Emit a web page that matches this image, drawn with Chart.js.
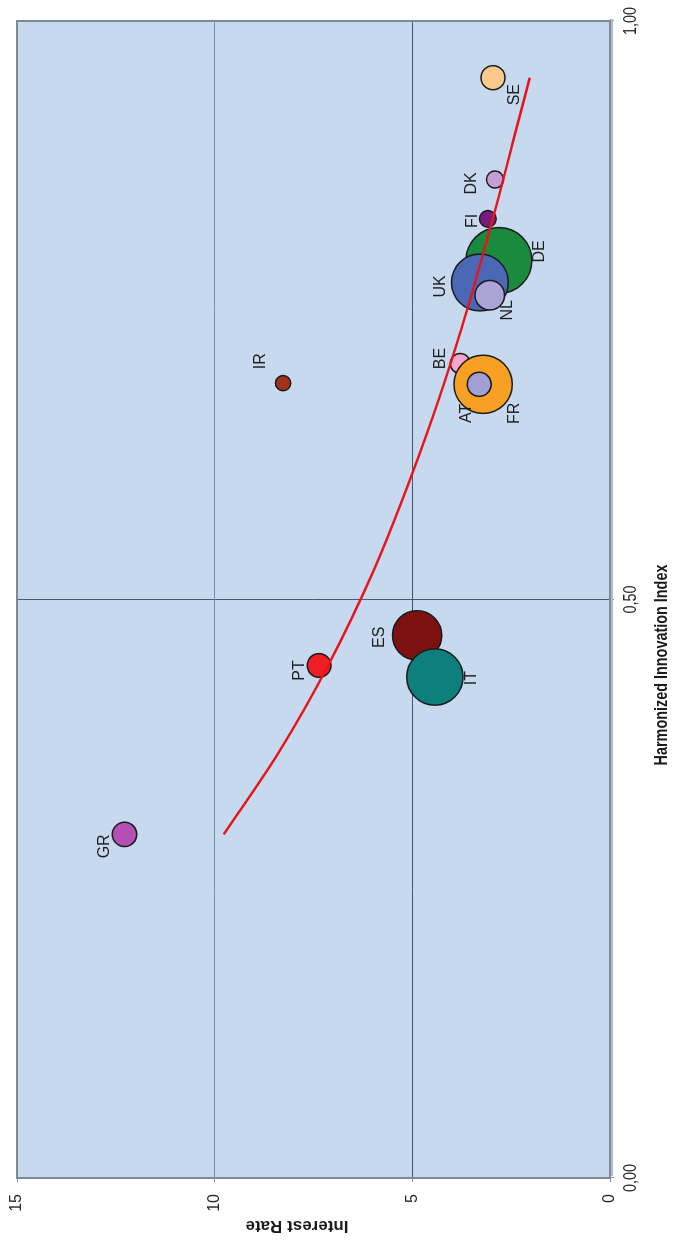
<!DOCTYPE html>
<html>
<head>
<meta charset="utf-8">
<script src="https://cdn.jsdelivr.net/npm/chart.js@4"></script>
<style>
  html, body { margin: 0; padding: 0; background: #ffffff; overflow: hidden; width: 677px; height: 1247px; }
  /* The chart is laid out landscape and turned a quarter turn to stand upright. */
  #wrap { position: absolute; left: 0; top: 0; width: 1247px; height: 677px;
          transform-origin: 0 0; transform: translateY(1247px) rotate(-90deg); }
</style>
</head>
<body>
<div id="wrap"><canvas id="c" width="1247" height="677"></canvas></div>
<script>
// Countries in drawing order (later ones are painted over earlier ones)
const countries = ['GR', 'IR', 'SE', 'DK', 'BE', 'FR', 'AT', 'DE', 'FI', 'UK', 'NL', 'ES', 'IT', 'PT'];
const innovationIndex = [0.297, 0.687, 0.951, 0.863, 0.704, 0.686, 0.686, 0.793, 0.829, 0.774, 0.763, 0.469, 0.433, 0.443];
const interestRate    = [12.28, 8.27, 2.96, 2.91, 3.79, 3.21, 3.31, 2.81, 3.09, 3.29, 3.04, 4.88, 4.43, 7.36];
// Bubble size: population, millions
const population      = [11.2, 4.4, 10.9, 5.5, 7.5, 64.0, 10.9, 82.0, 5.3, 61.0, 16.5, 46.0, 60.0, 10.6];

// Trend line through the cloud
const trendIndex = [0.297, 0.370, 0.443, 0.525, 0.608, 0.672, 0.736, 0.800, 0.846, 0.900, 0.951];
const trendRate  = [9.77, 8.34, 7.13, 5.98, 5.01, 4.34, 3.74, 3.20, 2.83, 2.42, 2.03];

// Axis ticks
const indexTicks = [0, 0.5, 1];
const rateTicks  = [0, 5, 10, 15];

const bubbleColors = ['#b44fb4', '#a3301c', '#fcc98c', '#c49fd6', '#f4a6cc', '#f7a024', '#a29fd4',
                      '#1a8a3e', '#7b1a7e', '#4a68b6', '#aaa4d8', '#7d1111', '#0d7f7c', '#ee1f24'];
// Label offsets from bubble centre, px
const labelOffsets = {
  GR: [-12, -20], IR: [22, -22], SE: [-17, 22], DK: [-4, -23], BE: [5, -20], FR: [-29, 31], AT: [-29, -13],
  DE: [9, 41], FI: [-2, -15], UK: [-4, -39], NL: [-15, 18], ES: [-2, -37], IT: [-1, 37], PT: [-5, -19]
};
const RADIUS_PER_ROOT = 3.64;

const SANS = '"Liberation Sans", Arial, sans-serif';
const PLOT_BG = '#c6d9ee';

const fmtIndex = v => v.toFixed(2).replace('.', ',');

// Plot background and frame
const frame = {
  id: 'frame',
  beforeDraw(chart) {
    const { ctx, chartArea: a } = chart;
    ctx.save();
    ctx.fillStyle = PLOT_BG;
    ctx.fillRect(a.left, a.top, a.right - a.left, a.bottom - a.top);
    ctx.restore();
  },
  afterDatasetsDraw(chart) {
    const { ctx, chartArea: a } = chart;
    ctx.save();
    // soft shadow under the plot
    ctx.fillStyle = '#b4bcc6';
    ctx.fillRect(a.left + 2, a.bottom, a.right - a.left, 3);
    ctx.strokeStyle = '#7e8a98';
    ctx.lineWidth = 2;
    ctx.strokeRect(a.left, a.top, a.right - a.left, a.bottom - a.top);
    ctx.restore();
  }
};

// Country labels, index tick labels and axis titles
const annotations = {
  id: 'annotations',
  afterDatasetsDraw(chart) {
    const { ctx, chartArea: a } = chart;
    const meta = chart.getDatasetMeta(1);
    ctx.save();
    ctx.fillStyle = '#1e1e1e';
    ctx.font = '16px ' + SANS;
    ctx.textAlign = 'center';
    ctx.textBaseline = 'middle';
    meta.data.forEach((el, i) => {
      const off = labelOffsets[countries[i]];
      ctx.fillText(countries[i], el.x + off[0], el.y + off[1]);
    });

    // condensed index tick labels
    const xs = chart.scales.x;
    ctx.fillStyle = '#262626';
    ctx.font = '18px ' + SANS;
    indexTicks.forEach(v => {
      ctx.save();
      ctx.translate(xs.getPixelForValue(v), a.bottom + 21);
      ctx.scale(0.8, 1);
      ctx.fillText(fmtIndex(v), 0, 0);
      ctx.restore();
    });

    // index axis title (condensed bold)
    ctx.save();
    ctx.fillStyle = '#1a1a1a';
    ctx.font = 'bold 18px ' + SANS;
    ctx.translate(582, a.bottom + 52);
    ctx.scale(0.8, 1);
    ctx.fillText('Harmonized Innovation Index', 0, 0);
    ctx.restore();

    // rate axis title
    ctx.save();
    ctx.fillStyle = '#1a1a1a';
    ctx.font = 'bold 17px ' + SANS;
    ctx.translate(21, 297);
    ctx.rotate(-Math.PI / 2);
    ctx.fillText('Interest Rate', 0, 0);
    ctx.restore();

    ctx.restore();
  }
};

new Chart(document.getElementById('c'), {
  type: 'bubble',
  data: {
    datasets: [
      {
        type: 'line',
        data: trendIndex.map((x, i) => ({ x, y: trendRate[i] })),
        borderColor: '#e8141c',
        borderWidth: 2.5,
        pointRadius: 0,
        cubicInterpolationMode: 'monotone',
        fill: false,
        order: 0
      },
      {
        data: countries.map((c, i) => ({
          x: innovationIndex[i],
          y: interestRate[i],
          r: RADIUS_PER_ROOT * Math.sqrt(population[i])
        })),
        backgroundColor: bubbleColors,
        borderColor: '#1b1b1b',
        borderWidth: 1.5,
        order: 1
      }
    ]
  },
  options: {
    responsive: false,
    animation: false,
    devicePixelRatio: 1,
    layout: { autoPadding: false, padding: { top: 17, right: 21, left: 0, bottom: 0 } },
    plugins: { legend: { display: false }, tooltip: { enabled: false } },
    scales: {
      x: {
        type: 'linear',
        min: 0, max: 1,
        afterBuildTicks: s => { s.ticks = indexTicks.map(v => ({ value: v })); },
        afterFit: s => { s.height = 67; s.paddingLeft = 0; s.paddingRight = 0; },
        ticks: { display: false },
        grid: {
          color: ctx => (ctx.tick && ctx.tick.value === 0.5) ? '#4c586c' : 'rgba(0,0,0,0)',
          tickColor: '#8a94a0',
          tickLength: 4,
          lineWidth: 1
        },
        border: { display: false }
      },
      y: {
        type: 'linear',
        min: 0, max: 15,
        afterBuildTicks: s => { s.ticks = rateTicks.map(v => ({ value: v })); },
        afterFit: s => { s.width = 69; s.paddingTop = 0; s.paddingBottom = 0; },
        ticks: {
          font: { family: SANS, size: 16 },
          color: '#262626',
          padding: 12
        },
        grid: {
          color: ctx => {
            if (!ctx.tick) return 'rgba(0,0,0,0)';
            if (ctx.tick.value === 5) return '#46546a';
            if (ctx.tick.value === 10) return '#7d8da6';
            return 'rgba(0,0,0,0)';
          },
          tickColor: '#8a94a0',
          tickLength: 4,
          lineWidth: 1
        },
        border: { display: false }
      }
    }
  },
  plugins: [frame, annotations]
});
</script>
</body>
</html>
